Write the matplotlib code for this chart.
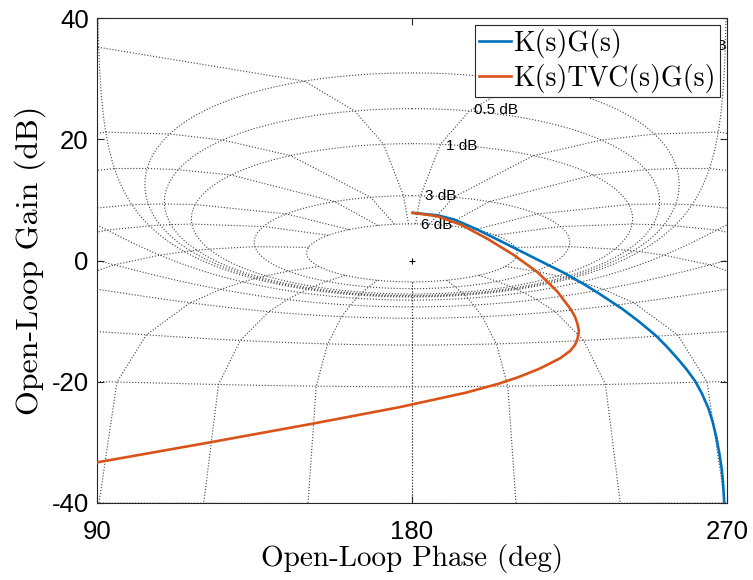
import numpy as np
import matplotlib
matplotlib.use("Agg")
import matplotlib.pyplot as plt

# open-loop curves (phase in deg, gain in dB)
kg_phase = [180.2, 187.3, 192.1, 198.7, 206.3, 215.8, 223.4, 229.1, 233.3, 240.0,
            244.7, 249.5, 252.8, 256.2, 258.5, 260.9, 262.8, 264.7, 265.9, 267.0,
            267.8, 268.5, 268.9, 269.2]
kg_gain = [7.86, 7.46, 6.75, 5.1, 2.92, 0.16, -2.03, -3.9, -5.4, -7.95,
           -10.0, -12.3, -14.2, -16.4, -18.0, -19.9, -21.9, -24.4, -26.6, -29.3,
           -31.8, -34.4, -36.9, -39.9]

ktvc_phase = [180.2, 187.3, 194.0, 201.5, 209.1, 215.8, 221.5, 225.3, 226.5, 227.2,
              227.7, 227.3, 226.6, 225.2, 222.4, 219.0, 216.2, 210.6, 204.9, 195.4,
              185.9, 176.4, 150.8, 121.3, 90.0]
ktvc_gain = [7.86, 7.30, 5.9, 3.6, 0.9, -1.9, -5.1, -8.0, -9.2, -10.3,
             -11.6, -12.9, -13.9, -14.9, -16.1, -17.1, -17.9, -19.2, -20.3, -21.8,
             -23.0, -24.2, -27.0, -30.1, -33.3]

# nichols grid: closed-loop gains (dB) and closed-loop phases (deg)
grid_gains = [6, 3, 1, 0.5, 0.25, 0, -1, -3, -6, -12, -20, -40, -60, -80, -100, -120]
grid_phases = [-1, -5, -10, -20, -30, -50, -90, -120, -150, -180]
label_text = ["6 dB", "3 dB", "1 dB", "0.5 dB", "0.25 dB"]
label_x = [182.6, 183.8, 189.7, 197.7, 269.8]
label_y = [5.9, 10.6, 18.9, 24.8, 35.3]

blue = "#0072BD"
orange = "#D95319"
sans = ["Liberation Sans", "DejaVu Sans"]

fig = plt.figure(figsize=(7.53, 5.8), dpi=100)
ax = fig.add_axes([97 / 753, 1 - 503 / 580, 630 / 753, 485 / 580])


def draw(ph, g):
    for k in range(-3, 4):
        ax.plot(ph + 360 * k, g, ls=":", color="0.25", lw=0.8, zorder=1)


# constant closed-loop gain contours (smooth)
th_full = np.linspace(-2 * np.pi, 0, 4001)
for gdb in grid_gains:
    th = th_full[1:-1] if gdb == 0 else th_full
    T = 10 ** (gdb / 20) * np.exp(1j * th)
    L = T / (1 - T)
    draw(np.degrees(np.unwrap(np.angle(L))), 20 * np.log10(np.abs(L)))

# constant closed-loop phase lines, joined through the gain contours
mags = 10 ** (np.array(grid_gains) / 20)
for p in grid_phases:
    T = mags * np.exp(1j * np.radians(p))
    L = T / (1 - T)
    ph = np.degrees(np.unwrap(np.angle(L)))
    g = 20 * np.log10(np.abs(L))
    draw(ph, g)
    draw(-ph, g)

for t, x, y in zip(label_text, label_x, label_y):
    ax.text(x, y, t, ha="right" if t == "0.25 dB" else "left", va="center",
            fontsize=11, family=sans, zorder=2)

ax.plot([180], [0], marker="+", color="k", ms=5, mew=0.8, zorder=3)

ax.plot(kg_phase, kg_gain, color=blue, lw=1.9, label="K(s)G(s)", zorder=4)
ax.plot(ktvc_phase, ktvc_gain, color=orange, lw=1.9, label="K(s)TVC(s)G(s)", zorder=4)

ax.set_xlim(90, 270)
ax.set_ylim(-40, 40)
ax.set_xticks([90, 180, 270], ["90", "180", "270"])
ax.set_yticks([-40, -20, 0, 20, 40], ["-40", "-20", "0", "20", "40"])
ax.tick_params(direction="in", top=True, right=True, length=5, width=0.8,
               labelsize=18.5, color="0.15")
ax.tick_params(axis="y", pad=6)
ax.tick_params(axis="x", pad=12)
for lab in ax.get_xticklabels() + ax.get_yticklabels():
    lab.set_family(sans)
for s in ax.spines.values():
    s.set_color("0.15")
    s.set_linewidth(0.8)

ax.set_xlabel("Open-Loop Phase (deg)", family="cmr10", fontsize=21, labelpad=0)
ax.set_ylabel("Open-Loop Gain (dB)", family="cmr10", fontsize=23, labelpad=4)

leg = ax.legend(loc="upper right", prop={"family": "cmr10", "size": 20},
                fancybox=False, framealpha=1, edgecolor="0.15",
                handlelength=1.15, handletextpad=0.1, borderpad=0.15,
                labelspacing=0.2, borderaxespad=0.25)
leg.get_frame().set_linewidth(0.8)
leg.set_zorder(5)

fig.savefig("out.png", dpi=100)
